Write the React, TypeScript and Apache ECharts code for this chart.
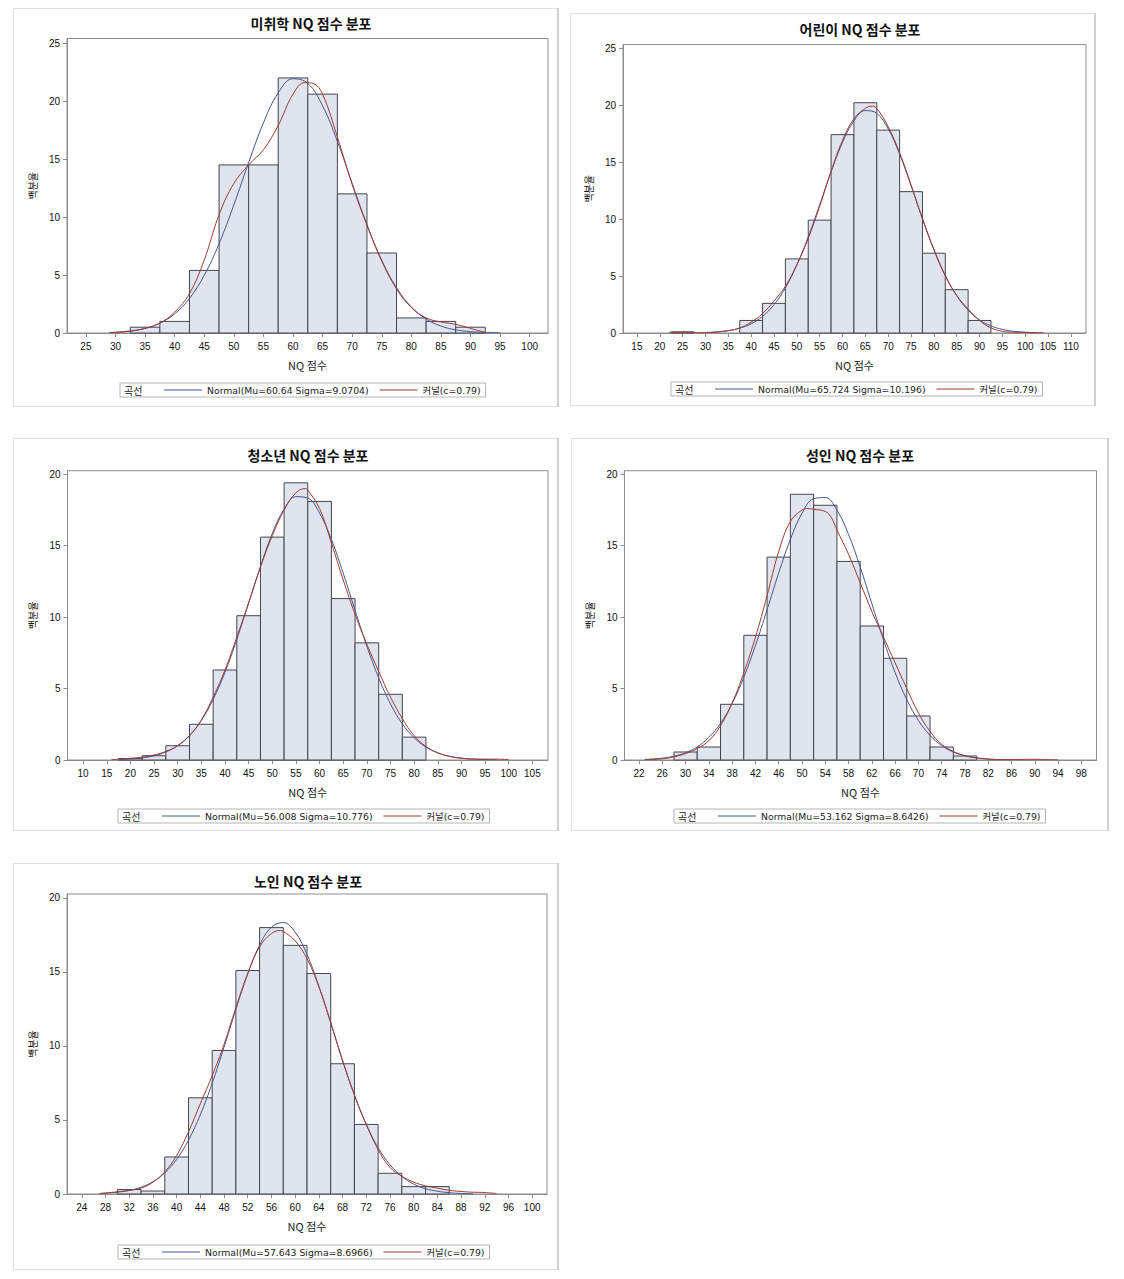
import React, { useEffect, useRef } from "react";
import * as echarts from "echarts";

// ---------------- data ----------------
const kernelName = "커널(c=0.79)";

// 미취학
const p1Mids = [35, 40, 45, 50, 55, 60, 65, 70, 75, 80, 85, 90];
const p1Pct = [0.5, 1.0, 5.4, 14.5, 14.5, 22.0, 20.6, 12.0, 6.9, 1.3, 1.0, 0.5];
const p1NormX = [29, 30, 32.5, 35, 37.5, 40, 42.5, 45, 47.5, 50, 52.5, 55, 57.5, 60, 62.5, 65, 67.5, 70, 72.5, 75, 77.5, 80, 82.5, 85, 87.5, 90, 92.5, 95];
const p1NormY = [0.04, 0.07, 0.18, 0.4, 0.85, 1.65, 2.98, 4.98, 7.7, 11.05, 14.7, 18.12, 20.71, 21.93, 21.53, 19.59, 16.52, 12.91, 9.35, 6.28, 3.91, 2.25, 1.21, 0.6, 0.27, 0.12, 0.05, 0.02];
const p1KernX = [29, 32.5, 35, 37.5, 40, 42.5, 45, 47.5, 50, 52.5, 55, 57.5, 60, 62, 63.5, 65, 67.5, 70, 72.5, 75, 77.5, 80, 82.5, 85, 87.5, 90, 92.5];
const p1KernY = [0.02, 0.15, 0.4, 0.85, 1.8, 3.4, 6.3, 10.2, 12.9, 14.5, 15.8, 17.9, 20.6, 21.6, 21.5, 20.6, 16.9, 12.8, 9.3, 6.2, 3.8, 2.2, 1.3, 0.95, 0.75, 0.4, 0.05];
const p1XTicks = [25, 30, 35, 40, 45, 50, 55, 60, 65, 70, 75, 80, 85, 90, 95, 100];
const p1YTicks = [0, 5, 10, 15, 20, 25];

// 어린이
const p2Mids = [25, 40, 45, 50, 55, 60, 65, 70, 75, 80, 85, 90];
const p2Pct = [0.1, 1.1, 2.6, 6.5, 9.9, 17.4, 20.2, 17.8, 12.4, 7.0, 3.8, 1.1];
const p2NormX = [30, 32.5, 35, 37.5, 40, 42.5, 45, 47.5, 50, 52.5, 55, 57.5, 60, 62.5, 65, 67.5, 70, 72.5, 75, 77.5, 80, 82.5, 85, 87.5, 90, 92.5, 95, 97.5, 100, 102.5];
const p2NormY = [0.04, 0.1, 0.21, 0.42, 0.81, 1.46, 2.48, 3.96, 5.96, 8.44, 11.25, 14.13, 16.71, 18.61, 19.51, 19.27, 17.91, 15.69, 12.93, 10.04, 7.34, 5.05, 3.27, 2.0, 1.15, 0.62, 0.32, 0.15, 0.07, 0.03];
const p2KernX = [22, 25, 28, 30, 35, 37.5, 40, 42.5, 45, 47.5, 50, 52.5, 55, 57.5, 60, 62.5, 65, 66.5, 67.5, 70, 72.5, 75, 77.5, 80, 82.5, 85, 87.5, 90, 92.5, 95, 97.5, 100, 104];
const p2KernY = [0.02, 0.08, 0.03, 0.03, 0.2, 0.45, 0.95, 1.7, 2.8, 4.1, 6.0, 8.3, 11.1, 14.2, 16.9, 18.8, 19.7, 19.9, 19.7, 18.1, 15.8, 13.0, 10.0, 7.3, 5.0, 3.3, 2.1, 1.1, 0.45, 0.15, 0.07, 0.05, 0.02];
const p2XTicks = [15, 20, 25, 30, 35, 40, 45, 50, 55, 60, 65, 70, 75, 80, 85, 90, 95, 100, 105, 110];
const p2YTicks = [0, 5, 10, 15, 20, 25];

// 청소년
const p3Mids = [20, 25, 30, 35, 40, 45, 50, 55, 60, 65, 70, 75, 80];
const p3Pct = [0.1, 0.3, 1.0, 2.5, 6.3, 10.1, 15.6, 19.4, 18.1, 11.3, 8.2, 4.6, 1.6];
const p3NormX = [17.5, 20, 22.5, 25, 27.5, 30, 32.5, 35, 37.5, 40, 42.5, 45, 47.5, 50, 52.5, 55, 57.5, 60, 62.5, 65, 67.5, 70, 72.5, 75, 77.5, 80, 82.5, 85, 87.5, 90, 92.5, 95, 97.5];
const p3NormY = [0.03, 0.07, 0.15, 0.29, 0.56, 1.01, 1.71, 2.77, 4.24, 6.14, 8.44, 10.99, 13.55, 15.85, 17.56, 18.43, 18.33, 17.28, 15.44, 13.07, 10.48, 7.97, 5.74, 3.92, 2.53, 1.55, 0.9, 0.5, 0.26, 0.13, 0.06, 0.03, 0.01];
const p3KernX = [16, 17.5, 20, 22.5, 25, 27.5, 30, 32.5, 35, 37.5, 40, 42.5, 45, 47.5, 50, 52.5, 55, 57, 57.5, 60, 62.5, 65, 67.5, 70, 72.5, 75, 77.5, 80, 82.5, 85, 87.5, 90, 92.5, 95, 97.5, 100];
const p3KernY = [0.02, 0.06, 0.12, 0.2, 0.35, 0.6, 1.0, 1.7, 2.8, 4.4, 6.3, 8.6, 11.0, 13.5, 15.7, 17.5, 18.7, 19.0, 18.9, 17.6, 15.2, 12.6, 10.2, 8.1, 6.2, 4.4, 2.9, 1.7, 0.95, 0.5, 0.25, 0.12, 0.07, 0.06, 0.06, 0.02];
const p3XTicks = [10, 15, 20, 25, 30, 35, 40, 45, 50, 55, 60, 65, 70, 75, 80, 85, 90, 95, 100, 105];
const p3YTicks = [0, 5, 10, 15, 20];

// 성인
const p4Mids = [30, 34, 38, 42, 46, 50, 54, 58, 62, 66, 70, 74, 78];
const p4Pct = [0.56, 0.91, 3.9, 8.73, 14.2, 18.6, 17.83, 13.9, 9.38, 7.12, 3.08, 0.91, 0.28];
const p4NormX = [23, 26, 28, 30, 32, 34, 36, 38, 40, 42, 44, 46, 48, 50, 52, 54, 56, 58, 60, 62, 64, 66, 68, 70, 72, 74, 76, 78, 80, 82, 84, 86];
const p4NormY = [0.04, 0.13, 0.27, 0.51, 0.92, 1.58, 2.57, 3.96, 5.79, 8.02, 10.52, 13.1, 15.44, 17.27, 18.29, 18.37, 17.49, 15.78, 13.5, 10.94, 8.41, 6.12, 4.23, 2.77, 1.72, 1.01, 0.56, 0.3, 0.15, 0.07, 0.03, 0.01];
const p4KernX = [23, 26, 28, 30, 32, 34, 36, 38, 40, 42, 44, 46, 48, 50, 51, 52, 54, 55, 56, 58, 60, 62, 64, 66, 68, 70, 72, 74, 76, 78, 80, 82, 84, 86, 88, 90, 92, 94];
const p4KernY = [0.02, 0.08, 0.22, 0.45, 0.8, 1.35, 2.4, 4.0, 6.1, 8.6, 11.5, 14.6, 16.7, 17.5, 17.6, 17.55, 17.4, 17.0, 16.1, 14.4, 12.4, 10.4, 8.6, 6.8, 5.0, 3.3, 2.0, 1.1, 0.6, 0.3, 0.15, 0.06, 0.03, 0.03, 0.04, 0.05, 0.03, 0.01];
const p4XTicks = [22, 26, 30, 34, 38, 42, 46, 50, 54, 58, 62, 66, 70, 74, 78, 82, 86, 90, 94, 98];
const p4YTicks = [0, 5, 10, 15, 20];

// 노인
const p5Mids = [32, 36, 40, 44, 48, 52, 56, 60, 64, 68, 72, 76, 80, 84];
const p5Pct = [0.3, 0.2, 2.5, 6.5, 9.7, 15.1, 18.0, 16.8, 14.9, 8.8, 4.7, 1.4, 0.5, 0.5];
const p5NormX = [27, 28, 30, 32, 34, 36, 38, 40, 42, 44, 46, 48, 50, 52, 54, 56, 58, 60, 62, 64, 66, 68, 70, 72, 74, 76, 78, 80, 82, 84, 86, 88, 90];
const p5NormY = [0.03, 0.055, 0.12, 0.24, 0.46, 0.83, 1.43, 2.34, 3.64, 5.36, 7.49, 9.92, 12.47, 14.87, 16.81, 18.03, 18.34, 17.69, 16.19, 14.05, 11.56, 9.03, 6.69, 4.7, 3.13, 1.98, 1.19, 0.67, 0.36, 0.19, 0.09, 0.04, 0.02];
const p5KernX = [27, 30, 32, 34, 36, 38, 40, 42, 44, 46, 48, 50, 52, 54, 56, 57.5, 58, 60, 62, 64, 66, 68, 70, 72, 74, 76, 78, 80, 82, 84, 86, 88, 90, 92, 94];
const p5KernY = [0.03, 0.15, 0.25, 0.4, 0.8, 1.5, 2.6, 4.2, 6.1, 8.0, 10.1, 12.6, 14.9, 16.7, 17.6, 17.8, 17.75, 17.1, 15.9, 14.0, 11.6, 9.0, 6.7, 4.7, 3.0, 1.8, 1.2, 0.8, 0.55, 0.4, 0.25, 0.17, 0.12, 0.1, 0.03];
const p5XTicks = [24, 28, 32, 36, 40, 44, 48, 52, 56, 60, 64, 68, 72, 76, 80, 84, 88, 92, 96, 100];
const p5YTicks = [0, 5, 10, 15, 20];

// ---------------- panel definitions ----------------
const panels = [
  { title: "미취학 NQ 점수 분포", mids: p1Mids, pct: p1Pct, binW: 5, normX: p1NormX, normY: p1NormY, kernX: p1KernX, kernY: p1KernY, xTicks: p1XTicks, yTicks: p1YTicks, normName: "Normal(Mu=60.64 Sigma=9.0704)" },
  { title: "어린이 NQ 점수 분포", mids: p2Mids, pct: p2Pct, binW: 5, normX: p2NormX, normY: p2NormY, kernX: p2KernX, kernY: p2KernY, xTicks: p2XTicks, yTicks: p2YTicks, normName: "Normal(Mu=65.724 Sigma=10.196)" },
  { title: "청소년 NQ 점수 분포", mids: p3Mids, pct: p3Pct, binW: 5, normX: p3NormX, normY: p3NormY, kernX: p3KernX, kernY: p3KernY, xTicks: p3XTicks, yTicks: p3YTicks, normName: "Normal(Mu=56.008 Sigma=10.776)" },
  { title: "성인 NQ 점수 분포", mids: p4Mids, pct: p4Pct, binW: 4, normX: p4NormX, normY: p4NormY, kernX: p4KernX, kernY: p4KernY, xTicks: p4XTicks, yTicks: p4YTicks, normName: "Normal(Mu=53.162 Sigma=8.6426)" },
  { title: "노인 NQ 점수 분포", mids: p5Mids, pct: p5Pct, binW: 4, normX: p5NormX, normY: p5NormY, kernX: p5KernX, kernY: p5KernY, xTicks: p5XTicks, yTicks: p5YTicks, normName: "Normal(Mu=57.643 Sigma=8.6966)" },
];

// layout (page pixel coordinates)
const layouts = [
  { frame: [13, 8, 545, 398], plot: [67, 38.5, 548, 333], xr: [21.8, 103.1], yMax: 25.4, titleXY: [311, 23], legendXY: [120, 383] },
  { frame: [570, 13, 525, 392], plot: [623, 44.6, 1086, 333], xr: [11.95, 113.3], yMax: 25.3, titleXY: [860, 29], legendXY: [671, 382] },
  { frame: [13, 438, 545, 392], plot: [67.5, 470.7, 548, 760], xr: [6.7, 108.3], yMax: 20.25, titleXY: [308, 455], legendXY: [118, 809] },
  { frame: [571, 438, 537, 392], plot: [624.5, 470.7, 1096.5, 760], xr: [19.5, 100.6], yMax: 20.25, titleXY: [860, 455], legendXY: [674, 809] },
  { frame: [13, 863, 545, 406], plot: [67, 894, 547, 1194], xr: [21.5, 102.5], yMax: 20.27, titleXY: [308, 881], legendXY: [118, 1245] },
];

const BLUE = "#445694";
const RED = "#a23a2e";
const AXIS = "#8c8c8c";
const TICKFONT = "Liberation Sans";
const KFONT = "Noto Sans CJK KR";

function buildOption() {
  const grid: any[] = [];
  const xAxis: any[] = [];
  const yAxis: any[] = [];
  const series: any[] = [];
  const title: any[] = [];
  const legend: any[] = [];
  const graphic: any[] = [];

  panels.forEach((p, i) => {
    const L = layouts[i];
    const [fx, fy, fw, fh] = L.frame;
    graphic.push({
      type: "rect",
      silent: true,
      z: -10,
      shape: { x: fx + 0.5, y: fy + 0.5, width: fw, height: fh },
      style: { fill: "none", stroke: "#e0e0e0", lineWidth: 1 },
    });
    graphic.push({
      type: "line",
      silent: true,
      z: -10,
      shape: { x1: fx + fw, y1: fy, x2: fx + fw, y2: fy + fh + 1 },
      style: { stroke: "#cfcfcf", lineWidth: 2 },
    });
    graphic.push({
      type: "text",
      silent: true,
      z: 100,
      x: L.legendXY[0] + 4,
      y: L.legendXY[1] + 7.5,
      style: { text: "곡선", fontSize: 10, fontFamily: KFONT, fill: "#222", align: "left", verticalAlign: "middle" },
    });

    const [l, t, r, b] = L.plot;
    grid.push({
      left: l,
      top: t,
      width: r - l,
      height: b - t,
      show: true,
      borderColor: AXIS,
      borderWidth: 1,
      backgroundColor: "transparent",
    });

    xAxis.push({
      type: "value",
      gridIndex: i,
      min: L.xr[0],
      max: L.xr[1],
      name: "NQ 점수",
      nameLocation: "middle",
      nameGap: 26,
      nameTextStyle: { fontSize: 11, fontFamily: KFONT, color: "#222" },
      axisLine: { show: true, lineStyle: { color: AXIS, width: 1 } },
      axisTick: { show: true, inside: false, length: 4, lineStyle: { color: AXIS }, customValues: p.xTicks },
      axisLabel: { fontSize: 10, fontFamily: TICKFONT, color: "#111", margin: 8, customValues: p.xTicks },
      splitLine: { show: false },
    });

    yAxis.push({
      type: "value",
      gridIndex: i,
      min: 0,
      max: L.yMax,
      name: "백분율",
      nameLocation: "middle",
      nameGap: 30,
      nameRotate: 90,
      nameTextStyle: { fontSize: 10, fontFamily: KFONT, color: "#111" },
      axisLine: { show: true, lineStyle: { color: AXIS, width: 1 } },
      axisTick: { show: true, inside: false, length: 4, lineStyle: { color: AXIS }, customValues: p.yTicks },
      axisLabel: { fontSize: 10, fontFamily: TICKFONT, color: "#111", margin: 7, customValues: p.yTicks },
      splitLine: { show: false },
    });

    title.push({
      text: p.title,
      left: L.titleXY[0],
      top: L.titleXY[1] - 9,
      textAlign: "center",
      padding: 0,
      textStyle: { fontSize: 14, fontWeight: "bold", fontFamily: KFONT, color: "#111", lineHeight: 18 },
    });

    legend.push({
      left: L.legendXY[0],
      top: L.legendXY[1],
      orient: "horizontal",
      padding: [1, 5, 1, 44],
      itemGap: 11,
      itemWidth: 38,
      itemHeight: 1,
      icon: "rect",
      borderColor: "#b4b4b4",
      borderWidth: 1,
      backgroundColor: "transparent",
      selectedMode: false,
      textStyle: { fontSize: 9.3, fontFamily: "DejaVu Sans, Noto Sans CJK KR", color: "#222", lineHeight: 12 },
      data: [p.normName, kernelName],
    });

    series.push({
      type: "custom",
      xAxisIndex: i,
      yAxisIndex: i,
      silent: true,
      z: 1,
      encode: { x: [0, 1], y: 2 },
      data: p.mids.map((m, k) => [m - p.binW / 2, m + p.binW / 2, p.pct[k]]),
      renderItem: (params: any, api: any) => {
        const a = api.coord([api.value(0), api.value(2)]);
        const c = api.coord([api.value(1), 0]);
        return {
          type: "rect",
          shape: { x: a[0], y: a[1], width: c[0] - a[0], height: c[1] - a[1] },
          style: { fill: "#dfe4ee", stroke: "#45454f", lineWidth: 1 },
        };
      },
    });

    series.push({
      type: "line",
      name: p.normName,
      xAxisIndex: i,
      yAxisIndex: i,
      silent: true,
      z: 3,
      symbol: "none",
      smooth: 0.4,
      data: p.normX.map((x, k) => [x, p.normY[k]]),
      lineStyle: { color: BLUE, width: 1 },
      itemStyle: { color: BLUE },
    });

    series.push({
      type: "line",
      name: kernelName,
      xAxisIndex: i,
      yAxisIndex: i,
      silent: true,
      z: 4,
      symbol: "none",
      smooth: 0.4,
      data: p.kernX.map((x, k) => [x, p.kernY[k]]),
      lineStyle: { color: RED, width: 1 },
      itemStyle: { color: RED },
    });
  });

  return {
    animation: false,
    backgroundColor: "#ffffff",
    title,
    legend,
    grid,
    xAxis,
    yAxis,
    series,
    graphic,
  };
}

export default function App() {
  const ref = useRef<HTMLDivElement>(null);
  useEffect(() => {
    if (!ref.current) return;
    const chart = echarts.init(ref.current, undefined, { renderer: "svg" });
    chart.setOption(buildOption() as any);
    return () => chart.dispose();
  }, []);
  return (
    <div
      ref={ref}
      style={{ position: "absolute", left: 0, top: 0, width: 1124, height: 1279, background: "#fff" }}
    />
  );
}
